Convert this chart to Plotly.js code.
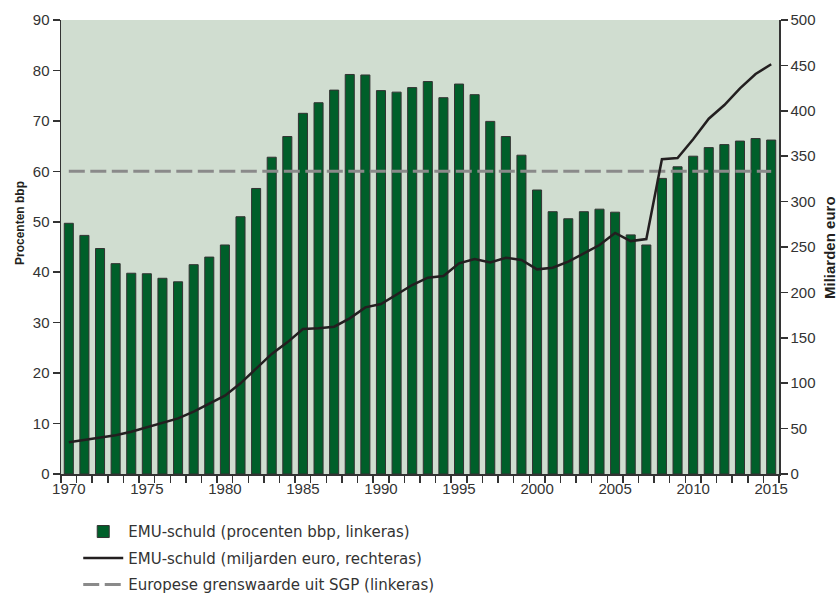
<!DOCTYPE html>
<html>
<head>
<meta charset="utf-8">
<script src="https://cdn.plot.ly/plotly-3.0.1.min.js"></script>
<style>
  html, body { margin: 0; padding: 0; background: #ffffff; }
  #chart { width: 840px; height: 595px; }
</style>
</head>
<body>
<div id="chart"></div>
<script>
// Data
const years = [1970,1971,1972,1973,1974,1975,1976,1977,1978,1979,
               1980,1981,1982,1983,1984,1985,1986,1987,1988,1989,
               1990,1991,1992,1993,1994,1995,1996,1997,1998,1999,
               2000,2001,2002,2003,2004,2005,2006,2007,2008,2009,
               2010,2011,2012,2013,2014,2015];
// EMU-schuld, procenten bbp (left axis)
const debtPct = [49.7,47.3,44.7,41.7,39.8,39.7,38.8,38.1,41.5,43.0,
                 45.4,51.0,56.6,62.8,66.9,71.5,73.6,76.1,79.2,79.1,
                 76.0,75.7,76.6,77.8,74.6,77.3,75.2,69.9,66.9,63.2,
                 56.3,52.0,50.6,52.0,52.5,51.9,47.4,45.4,58.6,60.9,
                 63.0,64.7,65.3,66.0,66.5,66.2];
// EMU-schuld, miljarden euro (right axis)
const debtBn = [35,37.4,40,42.6,46.6,51.4,56.5,61.3,68.6,77.1,
                86.3,99.9,116.4,132.2,145,159.7,160.4,162.2,171.4,183.5,
                187.2,197.9,208.1,216.2,218.1,232,236.8,233.1,238.2,235.7,
                225.4,227.2,233.8,243,252.2,265.5,256.5,258.7,346.6,348,
                368.6,391.3,406.4,424.8,440.5,451.2];
// Europese grenswaarde (SGP), left axis
const limitYears = [1970, 2015];
const limitValues = [60, 60];
// Tick labels
const xTickVals = [1970,1975,1980,1985,1990,1995,2000,2005,2010,2015];
const xTickText = ['1970','1975','1980','1985','1990','1995','2000','2005','2010','2015'];

const txt = '#333333';
const font = 'Liberation Sans, Arial, sans-serif';

const traces = [
  {
    type: 'bar', x: years, y: debtPct, name: 'EMU-schuld (procenten bbp, linkeras)',
    marker: { color: '#005f2a', line: { color: '#333333', width: 1 } },
    width: 0.58, xaxis: 'x', yaxis: 'y', legendgroup: 'a'
  },
  {
    type: 'scatter', mode: 'lines', x: years, y: debtBn, name: 'EMU-schuld (miljarden euro, rechteras)',
    line: { color: '#231f20', width: 2.5 }, xaxis: 'x', yaxis: 'y2', legendgroup: 'b'
  },
  {
    type: 'scatter', mode: 'lines', x: limitYears, y: limitValues, name: 'Europese grenswaarde uit SGP (linkeras)',
    line: { color: '#8a8a8a', width: 3, dash: '16px,5.5px' }, xaxis: 'x', yaxis: 'y', legendgroup: 'c'
  }
];

const layout = {
  width: 840, height: 595,
  margin: { l: 61, r: 61, t: 20, b: 121 },
  paper_bgcolor: '#ffffff',
  plot_bgcolor: '#d0ddd0',
  font: { family: font, size: 15, color: txt },
  showlegend: true,
  bargap: 0,
  xaxis: {
    type: 'linear', range: [1969.5, 2015.5], showgrid: false, zeroline: false,
    tickmode: 'array', tickvals: xTickVals, ticktext: xTickText, ticks: '',
    showline: true, linecolor: '#333333', linewidth: 1.5,
    tickfont: { size: 15, color: txt },
    minor: { ticks: 'outside', tick0: 1969.5, dtick: 1, ticklen: 7, tickwidth: 1.5, tickcolor: '#333333', showgrid: false }
  },
  yaxis: {
    range: [0, 90], dtick: 10, tick0: 0, showgrid: false, zeroline: false,
    ticks: 'outside', ticklen: 7, tickwidth: 1.5, tickcolor: '#333333',
    showline: true, linecolor: '#333333', linewidth: 1.5,
    tickfont: { size: 15, color: txt }
  },
  yaxis2: {
    range: [0, 500], dtick: 50, tick0: 0, overlaying: 'y', side: 'right',
    showgrid: false, zeroline: false,
    ticks: 'outside', ticklen: 7, tickwidth: 1.5, tickcolor: '#333333',
    showline: true, linecolor: '#333333', linewidth: 1.5,
    tickfont: { size: 15, color: txt }
  },
  legend: {
    x: 0.024, y: 0.134, xref: 'paper', yref: 'container', xanchor: 'left', yanchor: 'top',
    orientation: 'v', traceorder: 'grouped', tracegroupgap: 4,
    font: { family: 'DejaVu Sans, sans-serif', size: 15, color: txt }, itemwidth: 40, bgcolor: 'rgba(0,0,0,0)'
  },
  annotations: [
    { text: '<b>Procenten bbp</b>', xref: 'paper', yref: 'paper', x: -0.057, y: 0.553,
      xanchor: 'center', yanchor: 'middle', textangle: -90, showarrow: false,
      font: { size: 12, color: '#231f20' } },
    { text: '<b>Miliarden euro</b>', xref: 'paper', yref: 'paper', x: 1.0696, y: 0.5,
      xanchor: 'center', yanchor: 'middle', textangle: -90, showarrow: false,
      font: { size: 15, color: '#231f20' } }
  ]
};

Plotly.newPlot('chart', traces, layout, { staticPlot: true, displayModeBar: false });
</script>
</body>
</html>
